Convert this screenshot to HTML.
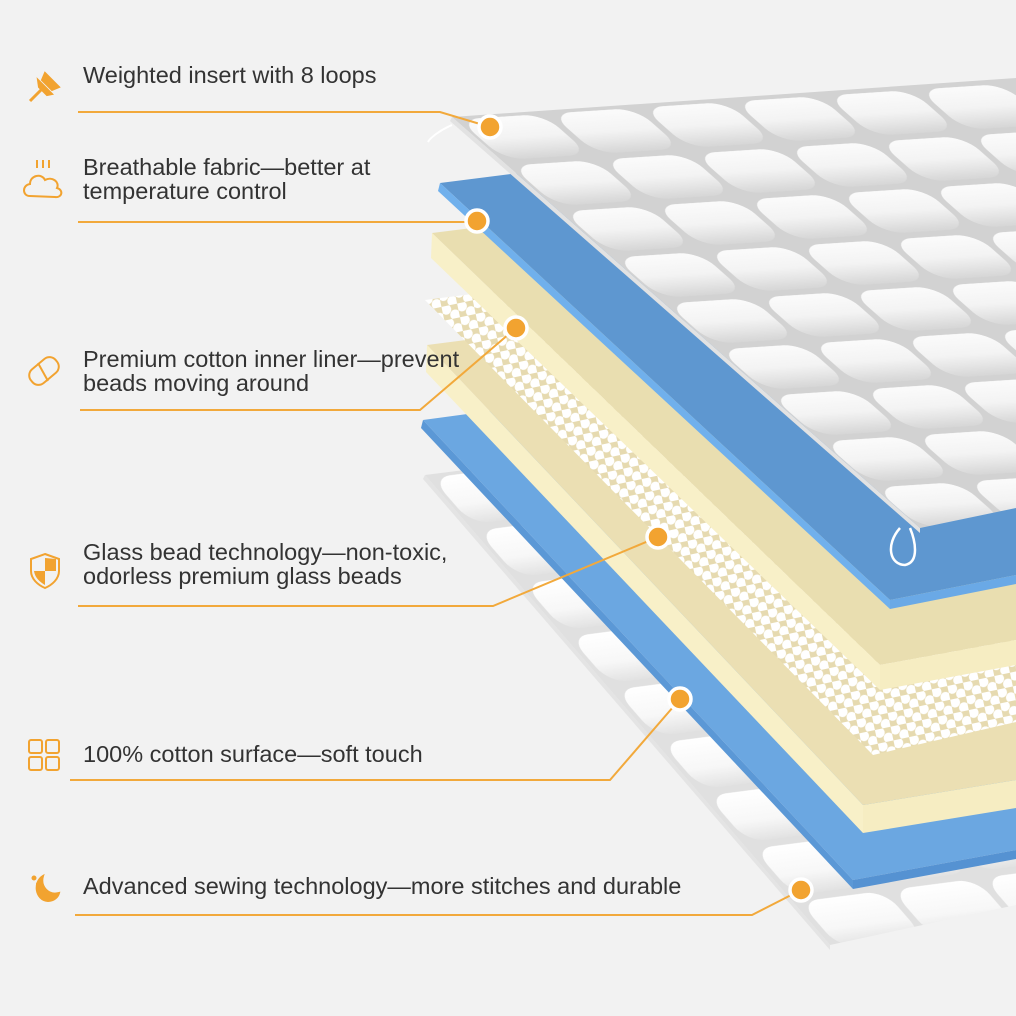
<!DOCTYPE html>
<html><head><meta charset="utf-8"><style>
html,body{margin:0;padding:0;background:#f2f2f2;}
svg{display:block}
text{font-family:"Liberation Sans",Arial,sans-serif;font-size:23.5px;fill:#333}
</style></head><body>
<svg width="1016" height="1016" viewBox="0 0 1016 1016" xmlns="http://www.w3.org/2000/svg">
<defs>
 <linearGradient id="cg" x1="0" y1="0" x2="0" y2="1">
  <stop offset="0" stop-color="#fbfbfb"/><stop offset="0.5" stop-color="#f3f3f3"/><stop offset="1" stop-color="#d6d6d6"/>
 </linearGradient>
 <linearGradient id="cg2" x1="0" y1="0" x2="0" y2="1">
  <stop offset="0" stop-color="#ffffff"/><stop offset="0.6" stop-color="#f7f7f7"/><stop offset="1" stop-color="#e2e2e2"/>
 </linearGradient>
 <pattern id="q1" patternUnits="userSpaceOnUse" width="1" height="1" patternTransform="matrix(92,-6,52,46,452,117)">
  <rect width="1" height="1" fill="#d2d2d2"/>
  <rect x="0.04" y="0.06" width="0.92" height="0.88" rx="0.22" ry="0.3" fill="url(#cg)"/>
 </pattern>
 <pattern id="q2" patternUnits="userSpaceOnUse" width="1" height="1" patternTransform="matrix(92,-12,46,53,425,475)">
  <rect width="1" height="1" fill="#e0e0e0"/>
  <rect x="0.04" y="0.06" width="0.92" height="0.88" rx="0.2" ry="0.3" fill="url(#cg2)"/>
 </pattern>
 <pattern id="dots" patternUnits="userSpaceOnUse" width="16" height="14" patternTransform="rotate(-12)">
  <rect width="16" height="14" fill="#e6dab0"/>
  <circle cx="4" cy="3.5" r="5.2" fill="#fff"/>
  <circle cx="12" cy="10.5" r="5.2" fill="#fff"/>
 </pattern>
</defs>

<polygon points="425,475 1016,400 1016,905 830,945" fill="url(#q2)"/>
<polygon points="425,475 830,945 830,950 423,479" fill="#e4e4e4"/>
<polygon points="423,420 1016,340 1016,850 853,880" fill="#6ba7e1"/>
<polygon points="423,420 853,880 853,889 421,428" fill="#5b98d6"/>
<polygon points="853,880 1016,850 1016,859 853,889" fill="#5592d2"/>
<polygon points="427,345 1016,270 1016,780 863,805" fill="#ebdfb3"/>
<polygon points="427,345 863,805 863,833 426,372" fill="#f8f0c8"/>
<polygon points="863,805 1016,780 1016,808 863,833" fill="#f6edc2"/>
<polygon points="425,300 1016,225 1016,722 873,755" fill="url(#dots)"/>
<polygon points="432,233 1016,160 1016,640 880,665" fill="#e9deb0"/>
<polygon points="432,233 880,665 880,690 431,258" fill="#f8f0c8"/>
<polygon points="880,665 1016,640 1016,665 880,690" fill="#f6edc2"/>
<polygon points="440,183 1016,110 1016,575 890,600" fill="#5e97d0"/>
<polygon points="440,183 890,600 890,609 438,191" fill="#70b0ec"/>
<polygon points="890,600 1016,575 1016,584 890,609" fill="#6aa9e6"/>
<polygon points="452,117 1016,78 1016,508 920,528" fill="url(#q1)"/>
<polygon points="452,117 920,528 920,533 450,121" fill="#e2e2e2"/>
<path d="M900,528 C885,545 890,565 905,565 C920,562 915,540 910,528" fill="none" stroke="#fff" stroke-width="2.5"/>
<path d="M452,125 C440,130 430,138 428,142" fill="none" stroke="#fff" stroke-width="2"/>

<g fill="none" stroke="#f2a93b" stroke-width="2">
 <polyline points="78,112 440,112 490,127"/>
 <polyline points="78,222 477,222"/>
 <polyline points="80,410 420,410 516,328"/>
 <polyline points="78,606 493,606 658,537"/>
 <polyline points="70,780 610,780 680,699"/>
 <polyline points="75,915 752,915 801,890"/>
</g>
<g fill="#f2a330" stroke="#fff" stroke-width="3.5">
 <circle cx="490" cy="127" r="11"/>
 <circle cx="477" cy="221" r="11"/>
 <circle cx="516" cy="328" r="11"/>
 <circle cx="658" cy="537" r="11"/>
 <circle cx="680" cy="699" r="11"/>
 <circle cx="801" cy="890" r="11"/>
</g>

<text x="83" y="83">Weighted insert with 8 loops</text>
<text x="83" y="175">Breathable fabric—better at</text>
<text x="83" y="199">temperature control</text>
<text x="83" y="367">Premium cotton inner liner—prevent</text>
<text x="83" y="391">beads moving around</text>
<text x="83" y="560">Glass bead technology—non-toxic,</text>
<text x="83" y="584">odorless premium glass beads</text>
<text x="83" y="762">100% cotton surface—soft touch</text>
<text x="83" y="894">Advanced sewing technology—more stitches and durable</text>

<g fill="none" stroke="#f2a330" stroke-width="2">
 <path d="M30,101 L42,89" stroke-width="3"/>
 <path d="M38,80 L52,94 L47,95 L39,87 Z" fill="#f2a330"/>
 <path d="M45,73 L59,87 L52,90 L42,80 Z" fill="#f2a330"/>
 <path d="M30,196 C22,196 22,185 30,184 C30,175 42,173 45,180 C52,176 60,182 57,188 C64,190 62,198 55,197 Z"/>
 <path d="M37,168 v-8 M43,168 v-8 M49,168 v-8"/>
 <rect x="28" y="362" width="32" height="18" rx="8" transform="rotate(-40 44 371)"/>
 <path d="M38,363 L48,381"/>
 <path d="M45,554 L59,559 V571 C59,579 52,585 45,588 C38,585 31,579 31,571 V559 Z"/>
 <path d="M45,558 V571 H56 V559 Z M45,571 H34 C35,578 40,582 45,585 Z" fill="#f2a330" stroke="none"/>
 <rect x="29" y="740" width="13" height="13" rx="2"/>
 <rect x="46" y="740" width="13" height="13" rx="2"/>
 <rect x="29" y="757" width="13" height="13" rx="2"/>
 <rect x="46" y="757" width="13" height="13" rx="2"/>
 <path d="M43,876 C33,882 35,900 48,901 C54,901 58,897 59,893 C48,896 40,886 43,876 Z" fill="#f2a330"/>
 <circle cx="34" cy="878" r="1.5" fill="#f2a330"/>
 <circle cx="38" cy="884" r="1" fill="#f2a330"/>
</g>
</svg>
</body></html>
